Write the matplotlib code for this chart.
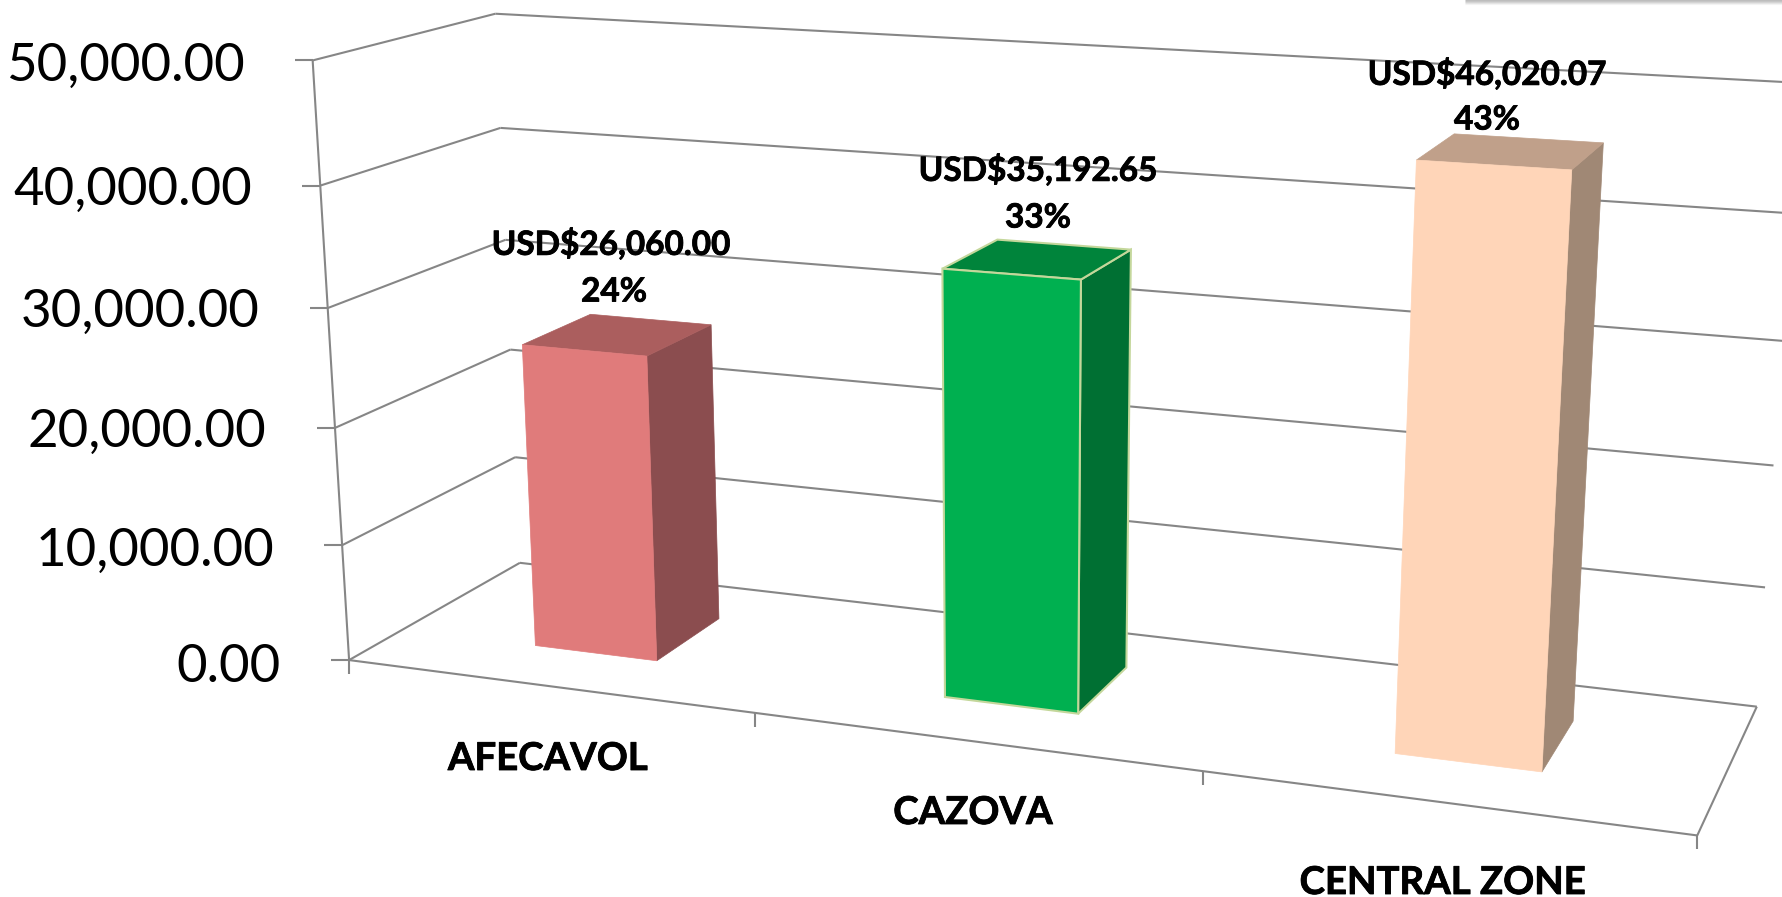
import numpy as np
import matplotlib
matplotlib.use("Agg")
import matplotlib.pyplot as plt
from matplotlib.patches import Polygon
import matplotlib.patheffects as pe

categories = ["AFECAVOL", "CAZOVA", "CENTRAL ZONE"]
values = [26060.00, 35192.65, 46020.07]
percents = [24, 33, 43]
y_ticks = [0, 10000, 20000, 30000, 40000, 50000]
front_colors = ["#E07B7B", "#00B050", "#FFD5B8"]
side_colors = ["#8B4D4F", "#007033", "#A08875"]
top_colors = ["#AB5E5E", "#00843B", "#C0A08A"]
edge_colors = ["#E07B7B", "#C4D79B", "#FFD5B8"]

W, H = 1783, 897
GRID = "#868686"

# camera calibration: chart-box corners (category, depth, value) -> canvas pixels
world = np.array([[0, 0, 0], [0, 1, 0], [3, 0, 0], [3, 1, 0],
                  [0, 0, 50000], [0, 1, 50000], [3, 1, 50000]], float)
canvas = np.array([[349, 660], [520, 563], [1697, 836], [1757, 706],
                   [313, 60], [495, 14], [1800, 83]], float)
A = []
for (a, b, c), (px, py) in zip(world, canvas):
    c = c / 50000
    A.append([a, b, c, 1, 0, 0, 0, 0, -px*a, -px*b, -px*c, -px])
    A.append([0, 0, 0, 0, a, b, c, 1, -py*a, -py*b, -py*c, -py])
P = np.linalg.svd(np.array(A))[2][-1].reshape(3, 4)


def proj(u, v, w):
    q = P @ np.array([u, v, w / 50000, 1.0])
    return q[0] / q[2], q[1] / q[2]


fig = plt.figure(figsize=(W / 100, H / 100), dpi=100)
ax = fig.add_axes([0, 0, 1, 1])
ax.set_xlim(0, W)
ax.set_ylim(H, 0)
ax.axis("off")
plt.rcParams["font.family"] = ["Lato", "DejaVu Sans"]

# window shadow at the top right
for yy, col in zip([0.5, 1.5, 2.5, 3.5, 4.5], ["#BDBDBD", "#C6C6C6", "#D4D4D4", "#E4E4E4", "#F3F3F3"]):
    ax.plot([1465, W], [yy, yy], color=col, lw=0.8, solid_capstyle="butt", zorder=1)


def seg(p, q, lw=1.5):
    ax.plot([p[0], q[0]], [p[1], q[1]], color=GRID, lw=lw, solid_capstyle="butt", zorder=2)


# walls, floor, axis ticks
for t in y_ticks:
    seg(proj(0, 0, t), proj(0, 1, t))
    seg(proj(0, 1, t), proj(3, 1, t))
    x0, y0 = proj(0, 0, t)
    seg((x0 - 18, y0), (x0, y0))
seg(proj(0, 0, 0), proj(0, 0, y_ticks[-1]))
seg(proj(0, 0, 0), proj(3, 0, 0))
seg(proj(3, 0, 0), proj(3, 1, 0))
for u in range(4):
    x0, y0 = proj(u, 0, 0)
    seg((x0, y0), (x0, y0 + 14))

# bars
half_width = 0.153
v_front, v_back = 0.30, 0.71
for i, val in enumerate(values):
    c = i + 0.495
    l, r = c - half_width, c + half_width
    front = [proj(l, v_front, 0), proj(r, v_front, 0), proj(r, v_front, val), proj(l, v_front, val)]
    side = [proj(r, v_front, 0), proj(r, v_back, 0), proj(r, v_back, val), proj(r, v_front, val)]
    top = [proj(l, v_front, val), proj(r, v_front, val), proj(r, v_back, val), proj(l, v_back, val)]
    lw = 1.5 if i == 1 else 0.5
    ax.add_patch(Polygon(side, fc=side_colors[i], ec=edge_colors[i] if i == 1 else side_colors[i], lw=lw, zorder=3))
    ax.add_patch(Polygon(top, fc=top_colors[i], ec=edge_colors[i] if i == 1 else top_colors[i], lw=lw, zorder=3))
    ax.add_patch(Polygon(front, fc=front_colors[i], ec=edge_colors[i], lw=lw, zorder=4))

heavy = [pe.withStroke(linewidth=0.6, foreground="black")]

# data labels
label_pos = [(611, 244, 292), (1038, 170, 218), (1487, 74, 120)]
pct_x = [614, 1038, 1487]
for val, pct, (x, y1, y2), px in zip(values, percents, label_pos, pct_x):
    ax.text(x, y1, f"USD${val:,.2f}", ha="center", va="center", fontsize=24, fontweight="bold",
            color="black", zorder=6, path_effects=heavy)
    ax.text(px, y2, f"{pct}%", ha="center", va="center", fontsize=24, fontweight="bold",
            color="black", zorder=6, path_effects=heavy)

# value axis labels
tick_right = [281, 274, 266, 260, 252, 245]
tick_y = [667, 551, 432, 312, 190, 66]
for t, x, y in zip(y_ticks, tick_right, tick_y):
    ax.text(x, y, f"{t:,.2f}", ha="right", va="center", fontsize=38, color="black", zorder=6)

# category labels
cat_pos = [(548, 759), (973, 813), (1443, 883)]
for name, (x, y) in zip(categories, cat_pos):
    ax.text(x, y, name, ha="center", va="center", fontsize=27.6, fontweight="bold",
            color="black", zorder=6, path_effects=heavy)

fig.savefig("out.png", dpi=100, facecolor="white")
